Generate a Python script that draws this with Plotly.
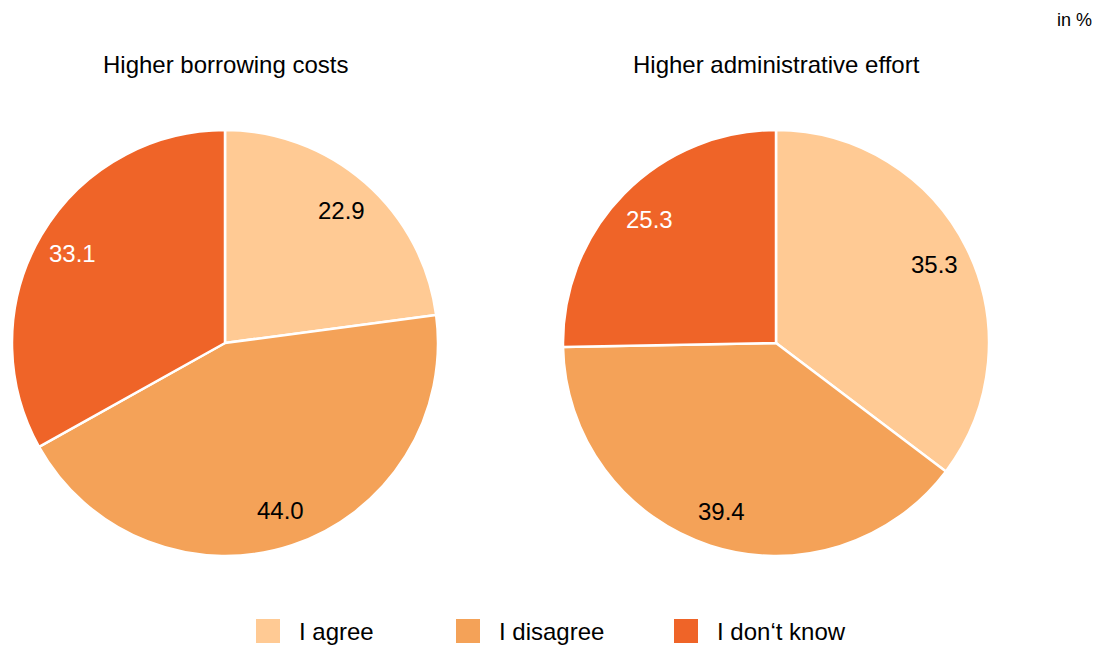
import math
import plotly.graph_objects as go

# Survey answers, in percent
categories = ["I agree", "I disagree", "I don\u2018t know"]
borrowing_costs = [22.9, 44.0, 33.1]
admin_effort = [35.3, 39.4, 25.3]
panel_titles = ["Higher borrowing costs", "Higher administrative effort"]

colors = ["#FFCA94", "#F4A258", "#EF6428"]
text_colors = ["#000000", "#000000", "#FFFFFF"]
FONT = "Liberation Sans, Arial, sans-serif"

W, H = 1099, 645
R_PX = 213          # pie radius in pixels
LABEL_R = 0.83      # value labels sit at this fraction of the radius

fig = go.Figure()

centers = [(225, 343), (776, 343)]
domains = [
    dict(x=[(cx - R_PX) / W, (cx + R_PX) / W], y=[(H - cy - R_PX) / H, (H - cy + R_PX) / H])
    for cx, cy in centers
]

for vals, dom, (cx, cy), name in zip([borrowing_costs, admin_effort], domains, centers, panel_titles):
    fig.add_trace(go.Pie(
        labels=categories,
        values=vals,
        name=name,
        domain=dom,
        sort=False,
        direction="clockwise",
        rotation=0,
        marker=dict(colors=colors, line=dict(color="#FFFFFF", width=2.5)),
        textinfo="none",
        hoverinfo="label+value",
        showlegend=False,
    ))

    # Value labels placed at the mid-angle of each slice (clockwise from 12 o'clock)
    total = sum(vals)
    cum = 0.0
    for v, tc in zip(vals, text_colors):
        mid = (cum + v / 2) / total * 2 * math.pi
        cum += v
        px = cx + LABEL_R * R_PX * math.sin(mid)
        py = cy - LABEL_R * R_PX * math.cos(mid)
        fig.add_annotation(
            text=f"{v:.1f}", x=px / W, y=1 - py / H, xref="paper", yref="paper",
            showarrow=False, xanchor="center", yanchor="middle",
            font=dict(family=FONT, size=24, color=tc),
        )

# Panel titles
for title, (cx, cy) in zip(panel_titles, centers):
    fig.add_annotation(
        text=title, x=cx / W, y=1 - 65 / H,
        xref="paper", yref="paper", showarrow=False,
        xanchor="center", yanchor="middle",
        font=dict(family=FONT, size=24, color="#000000"),
    )

# Unit note
fig.add_annotation(
    text="in %", x=1094 / W, y=1 - 20 / H, xref="paper", yref="paper",
    showarrow=False, xanchor="right", yanchor="middle",
    font=dict(family=FONT, size=18, color="#000000"),
)

# Legend: colour swatches with labels
legend_x = [256, 456, 674]
for cat, col, lx in zip(categories, colors, legend_x):
    fig.add_shape(
        type="rect", xref="paper", yref="paper",
        x0=lx / W, x1=(lx + 24) / W, y0=1 - 643 / H, y1=1 - 619 / H,
        fillcolor=col, line=dict(width=0),
    )
    fig.add_annotation(
        text=cat, x=(lx + 41) / W, y=1 - 631 / H, xref="paper", yref="paper",
        showarrow=False, xanchor="left", yanchor="middle",
        font=dict(family=FONT, size=24, color="#000000"),
    )

fig.update_layout(
    width=W, height=H,
    margin=dict(l=0, r=0, t=0, b=0),
    paper_bgcolor="#FFFFFF", plot_bgcolor="#FFFFFF",
    showlegend=False,
)

fig.write_html("out.html")
